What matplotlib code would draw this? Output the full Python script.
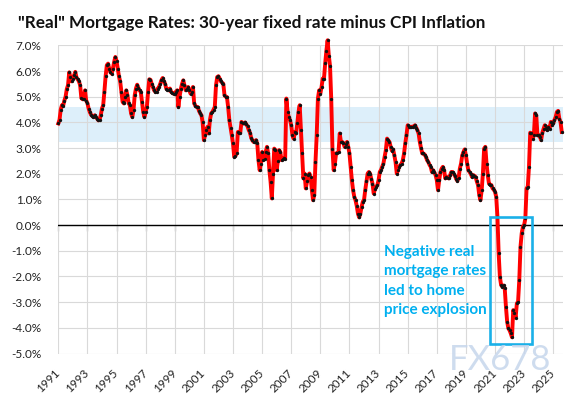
import numpy as np
import matplotlib.pyplot as plt
from matplotlib.patches import Rectangle

plt.rcParams['font.family'] = ['Lato', 'DejaVu Sans']

# monthly real mortgage rate (%), Jan 1991 .. Aug 2025
rates = [
    3.96, 4.10, 4.50, 4.67, 4.65, 4.85, 5.00, 5.30, 5.45, 5.95, 5.75, 5.60,  # 1991
    5.70, 5.84, 5.97, 5.75, 5.68, 5.60, 5.45, 4.95, 4.90, 4.93, 5.25, 4.85,  # 1992
    4.75, 4.54, 4.40, 4.30, 4.25, 4.21, 4.28, 4.20, 4.15, 4.08, 4.10, 4.28,  # 1993
    4.54, 4.67, 5.20, 5.80, 6.23, 6.29, 6.10, 5.95, 5.90, 6.10, 6.35, 6.55,  # 1994
    6.40, 6.10, 5.80, 5.60, 5.20, 4.80, 4.74, 5.00, 5.25, 5.06, 4.74, 4.67,  # 1995
    4.35, 4.21, 4.47, 5.06, 5.32, 5.47, 5.35, 5.25, 5.19, 4.80, 4.41, 4.21,  # 1996
    4.40, 4.60, 5.19, 5.68, 5.66, 5.50, 5.38, 5.25, 5.19, 5.19, 5.32, 5.38,  # 1997
    5.50, 5.64, 5.73, 5.60, 5.51, 5.32, 5.28, 5.25, 5.32, 5.19, 5.15, 5.12,  # 1998
    5.12, 5.20, 5.25, 4.60, 5.00, 5.30, 5.50, 5.64, 5.45, 5.25, 5.32, 5.38,  # 1999
    5.25, 5.12, 5.19, 5.38, 4.74, 4.65, 4.60, 4.60, 4.45, 4.35, 4.28, 4.00,  # 2000
    3.31, 3.50, 3.70, 3.83, 3.57, 4.10, 4.35, 4.41, 4.50, 4.60, 5.45, 5.77,  # 2001
    5.80, 5.71, 5.60, 5.55, 5.51, 5.06, 5.00, 4.99, 4.60, 4.09, 3.80, 3.50,  # 2002
    3.18, 2.66, 2.70, 2.79, 3.63, 3.60, 3.59, 4.02, 3.96, 3.96, 4.00, 3.92,  # 2003
    3.85, 3.70, 3.60, 3.40, 3.30, 3.24, 3.24, 3.31, 3.18, 2.53, 2.14, 2.40,  # 2004
    2.85, 2.53, 2.59, 2.85, 3.05, 2.79, 2.14, 1.68, 1.04, 2.00, 2.98, 2.92,  # 2005
    2.14, 2.50, 2.92, 2.85, 2.53, 2.59, 2.60, 2.59, 4.93, 4.41, 4.21, 4.09,  # 2006
    3.89, 3.50, 3.37, 3.63, 3.57, 3.96, 4.41, 4.67, 3.70, 2.79, 1.82, 2.01,  # 2007
    1.43, 1.70, 1.95, 2.01, 1.88, 1.36, 0.97, 1.17, 2.46, 3.50, 4.93, 5.25,  # 2008
    5.12, 5.38, 5.71, 5.70, 6.30, 6.80, 7.20, 6.60, 6.20, 4.90, 2.95, 2.14,  # 2009
    2.40, 2.79, 2.82, 2.85, 3.57, 3.24, 3.24, 3.20, 3.05, 3.15, 3.24, 3.05,  # 2010
    2.79, 2.27, 1.75, 1.36, 1.10, 0.97, 0.75, 0.45, 0.30, 0.45, 0.71, 0.91,  # 2011
    0.97, 1.36, 1.70, 2.01, 2.07, 2.01, 1.80, 1.62, 1.23, 1.40, 1.49, 1.56,  # 2012
    1.75, 2.07, 2.15, 2.27, 2.40, 2.66, 2.92, 3.37, 3.30, 3.24, 3.05, 2.90,  # 2013
    2.95, 2.72, 2.46, 2.01, 2.14, 2.27, 2.35, 2.40, 2.53, 2.79, 3.18, 3.50,  # 2014
    3.89, 3.83, 3.83, 3.83, 3.83, 3.85, 3.89, 3.80, 3.70, 3.57, 3.24, 3.00,  # 2015
    2.79, 2.79, 2.75, 2.66, 2.53, 2.46, 2.35, 2.27, 2.07, 2.14, 2.05, 1.95,  # 2016
    1.75, 1.36, 1.75, 2.07, 2.20, 2.27, 2.14, 1.82, 1.88, 1.85, 1.82, 1.95,  # 2017
    2.07, 2.07, 2.00, 1.92, 1.80, 1.72, 1.85, 2.20, 2.40, 2.72, 2.85, 2.95,  # 2018
    2.72, 2.40, 2.14, 2.07, 2.00, 1.88, 1.95, 1.92, 1.88, 1.70, 1.56, 1.17,  # 2019
    0.97, 1.36, 2.00, 2.98, 3.05, 2.40, 1.95, 1.62, 1.58, 1.56, 1.43, 1.38,  # 2020
    1.30, 1.10, 0.32, -1.10, -2.01, -2.33, -2.40, -2.35, -2.46, -3.18, -3.76, -4.02,  # 2021
    -4.10, -4.22, -4.37, -3.31, -3.44, -3.60, -3.05, -2.98, -2.14, -0.84, -0.32, -0.06,  # 2022
    0.00, 0.26, 1.43, 1.50, 2.27, 3.60, 3.57, 3.37, 3.50, 4.35, 4.28, 3.50,  # 2023
    3.50, 3.44, 3.31, 3.60, 3.75, 3.89, 3.80, 3.70, 3.83, 3.76, 4.02, 3.90,  # 2024
    3.96, 4.10, 4.21, 4.41, 4.45, 4.15, 4.02, 3.63,  # 2025
]
start_year = 1991
tick_years = list(range(1991, 2026, 2))
band_low, band_high = 3.25, 4.6
box_years = (2020.66, 2023.55)
box_rates = (-4.63, 0.30)
note = "Negative real\nmortgage rates\nled to home\nprice explosion"

x = start_year + np.arange(len(rates)) / 12.0

fig = plt.figure(figsize=(5.8, 3.96), dpi=100)
ax = fig.add_axes([58.3 / 580, 1 - 353.5 / 396, (563 - 58.3) / 580, (353.5 - 45.4) / 396])

ax.axhspan(band_low, band_high, color='#DDEFFA', zorder=0.2, lw=0)
ax.plot(x, rates, color='#FF0000', lw=2.8, zorder=3, clip_on=False,
        marker='o', ms=2.4, mfc='#111111', mec='#111111', mew=0)
ax.axhline(0, color='black', lw=1.0, zorder=2)

ax.add_patch(Rectangle((box_years[0], box_rates[0]), box_years[1] - box_years[0],
                       box_rates[1] - box_rates[0], fill=False,
                       edgecolor='#1AB0E8', lw=1.9, zorder=4))
ax.text(2013.35, -0.78, note, color='#00B0F0', fontsize=11, fontweight='bold',
        va='top', ha='left', linespacing=1.48, zorder=5)

ax.set_xlim(start_year, 2025.67)
ax.set_ylim(-5, 7)
ax.set_yticks(np.arange(-5, 8, 1))
ax.set_yticklabels([f"{v:.1f}%" for v in np.arange(-5, 8, 1)])
ax.set_xticks(tick_years)
ax.set_xticklabels([str(y) for y in tick_years], rotation=45, ha='right',
                   va='center', rotation_mode='anchor')
ax.tick_params(axis='both', length=0, labelsize=8.5, colors='#222222')
ax.tick_params(axis='y', pad=12)
ax.tick_params(axis='x', pad=13)
ax.set_axisbelow(True)
ax.grid(True, color='#D9D9D9', lw=0.8)
for s in ax.spines.values():
    s.set_visible(False)

# small tick marks on the zero line
zero_axis = ax.secondary_xaxis(5 / 12)
zero_axis.set_xticks(tick_years)
zero_axis.set_xticklabels([])
zero_axis.tick_params(direction='out', length=4, width=0.8, color='black')
zero_axis.spines['bottom'].set_visible(False)

fig.text(18.3 / 580, 1 - 28.3 / 396,
         '"Real" Mortgage Rates: 30-year fixed rate minus CPI Inflation',
         fontsize=12.3, fontweight='bold', color='#111111', va='baseline')
fig.text(500 / 580, 1 - 360 / 396, 'FX678', fontsize=25, color='#C6D6EC',
         alpha=0.85, ha='center', va='center', zorder=10)

fig.savefig('out.png', dpi=100)
